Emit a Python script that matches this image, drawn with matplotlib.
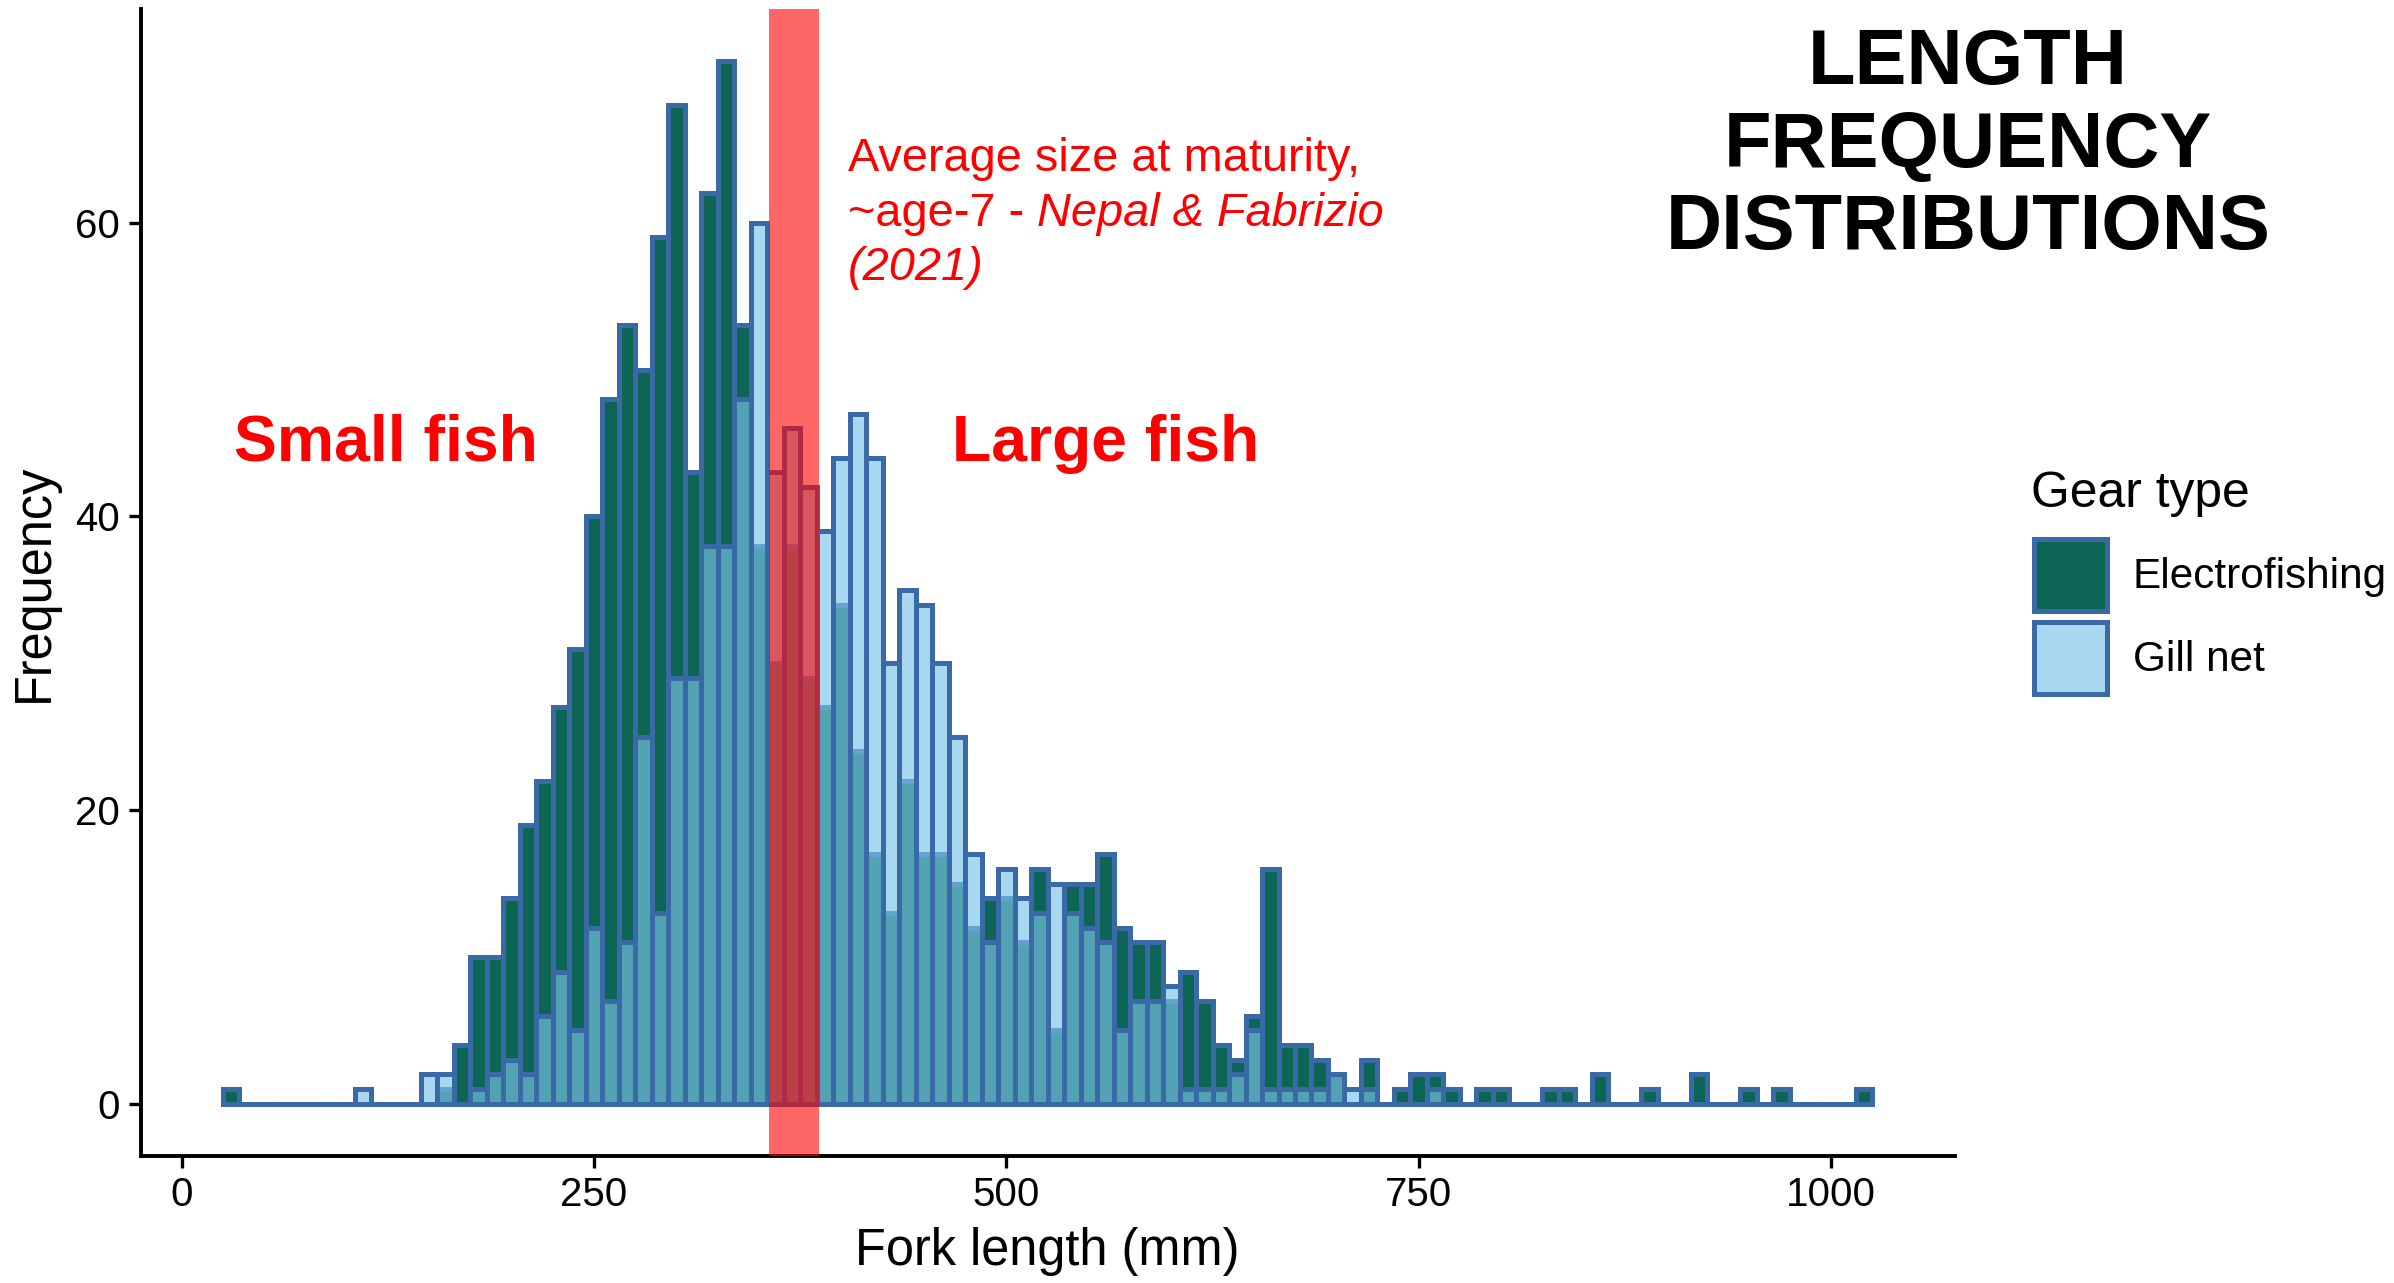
import matplotlib
matplotlib.use("Agg")
import matplotlib.pyplot as plt
from matplotlib.patches import Patch

plt.rcParams['font.family'] = ['Liberation Sans', 'DejaVu Sans']

# ---- data: 10 mm fork-length bins (bin centres) ----
bin_centers = [30, 40, 50, 60, 70, 80, 90, 100, 110, 120,
               130, 140, 150, 160, 170, 180, 190, 200, 210, 220,
               230, 240, 250, 260, 270, 280, 290, 300, 310, 320,
               330, 340, 350, 360, 370, 380, 390, 400, 410, 420,
               430, 440, 450, 460, 470, 480, 490, 500, 510, 520,
               530, 540, 550, 560, 570, 580, 590, 600, 610, 620,
               630, 640, 650, 660, 670, 680, 690, 700, 710, 720,
               730, 740, 750, 760, 770, 780, 790, 800, 810, 820,
               830, 840, 850, 860, 870, 880, 890, 900, 910, 920,
               930, 940, 950, 960, 970, 980, 990, 1000, 1010, 1020]

electrofishing = [1, 0, 0, 0, 0, 0, 0, 0, 0, 0,
                  0, 0, 0, 1, 4, 10, 10, 14, 19, 22,
                  27, 31, 40, 48, 53, 50, 59, 68, 43, 62,
                  71, 53, 38, 30, 38, 29, 27, 34, 24, 17,
                  13, 22, 17, 17, 15, 12, 14, 14, 11, 16,
                  5, 15, 15, 17, 12, 11, 11, 7, 9, 7,
                  4, 3, 6, 16, 4, 4, 3, 2, 0, 3,
                  0, 1, 2, 2, 1, 0, 1, 1, 0, 0,
                  1, 1, 0, 2, 0, 0, 1, 0, 0, 2,
                  0, 0, 1, 0, 1, 0, 0, 0, 0, 1]

gill_net = [0, 0, 0, 0, 0, 0, 0, 0, 1, 0,
            0, 0, 2, 2, 0, 1, 2, 3, 2, 6,
            9, 5, 12, 7, 11, 25, 13, 29, 29, 38,
            38, 48, 60, 43, 46, 42, 39, 44, 47, 44,
            30, 35, 34, 30, 25, 17, 11, 16, 14, 13,
            15, 13, 12, 11, 5, 7, 7, 8, 1, 1,
            1, 2, 5, 1, 1, 1, 1, 2, 1, 1,
            0, 0, 0, 1, 0, 0, 0, 0, 0, 0,
            0, 0, 0, 0, 0, 0, 0, 0, 0, 0,
            0, 0, 0, 0, 0, 0, 0, 0, 0, 0]

gear_labels = ["Electrofishing", "Gill net"]
maturity_band = (356, 386.5)
x_ticks = [0, 250, 500, 750, 1000]
y_ticks = [0, 20, 40, 60]

# ---- styles ----
dark_green = "#0d6655"
gill_rgba = (122 / 255, 195 / 255, 231 / 255, 0.65)
edge = "#3a6aa5"
lw = 1.8

fig = plt.figure(figsize=(11.97, 6.415), dpi=200)
ax = fig.add_axes([0.0587, 0.099, 0.8165 - 0.0587, 0.993 - 0.099])

ax.bar(bin_centers, electrofishing, width=10, color=dark_green,
       edgecolor=edge, linewidth=lw, zorder=2)
ax.bar(bin_centers, gill_net, width=10, facecolor=gill_rgba,
       edgecolor=edge, linewidth=lw, zorder=3)
ax.axvspan(maturity_band[0], maturity_band[1], color="red", alpha=0.6,
           lw=0, zorder=4)

ax.set_xlim(-25, 1075)
ax.set_ylim(-3.55, 74.55)
ax.set_xticks(x_ticks)
ax.set_yticks(y_ticks)
for s in ["top", "right"]:
    ax.spines[s].set_visible(False)
for s in ["left", "bottom"]:
    ax.spines[s].set_linewidth(1.4)
ax.tick_params(length=4.3, width=1.2, labelsize=14.5, pad=3, colors="black")

ax.set_xlabel("Fork length (mm)", fontsize=18.2)
ax.set_ylabel("Frequency", fontsize=18.2)
ax.xaxis.set_label_coords(0.5, -0.0837)
ax.xaxis.label.set_va("center")
ax.yaxis.set_label_coords(-0.0587, 0.5)
ax.yaxis.label.set_va("center")

# annotations
ax.text(124, 43.8, "Small fish", color="red", fontsize=23.2,
        fontweight="bold", ha="center", va="baseline", zorder=5)
ax.text(560, 43.8, "Large fish", color="red", fontsize=23.2,
        fontweight="bold", ha="center", va="baseline", zorder=5)
ax.text(404, 63.5, "Average size at maturity,", color="red", fontsize=16.9,
        ha="left", va="baseline", zorder=5)
t2 = ax.text(404, 59.8, "~age-7 - ", color="red", fontsize=16.9,
             ha="left", va="baseline", zorder=5)
ax.annotate("Nepal & Fabrizio", xy=(1, 0), xycoords=t2, color="red",
            fontsize=16.9, fontstyle="italic", ha="left", va="bottom",
            zorder=5)
ax.text(404, 56.1, "(2021)", color="red", fontsize=16.9, fontstyle="italic",
        ha="left", va="baseline", zorder=5)

# title block
for line, yb in zip(["LENGTH", "FREQUENCY", "DISTRIBUTIONS"],
                    [0.9345, 0.8701, 0.8061]):
    fig.text(0.822, yb, line, fontsize=28.0, fontweight="bold",
             ha="center", va="baseline", color="black")

# legend
fig.text(0.8484, 0.6048, "Gear type", fontsize=17.9, ha="left",
         va="baseline", color="black")
handles = [Patch(facecolor=dark_green, edgecolor=edge, linewidth=lw),
           Patch(facecolor=gill_rgba, edgecolor=edge, linewidth=lw)]
fig.legend(handles, gear_labels, loc="upper left",
           bbox_to_anchor=(0.8495, 0.580), frameon=False, fontsize=15.2,
           handlelength=1.73, handleheight=2.25,
           handletextpad=0.62, labelspacing=0.25, borderpad=0,
           borderaxespad=0, alignment="left")

fig.savefig("out.png", dpi=200)
